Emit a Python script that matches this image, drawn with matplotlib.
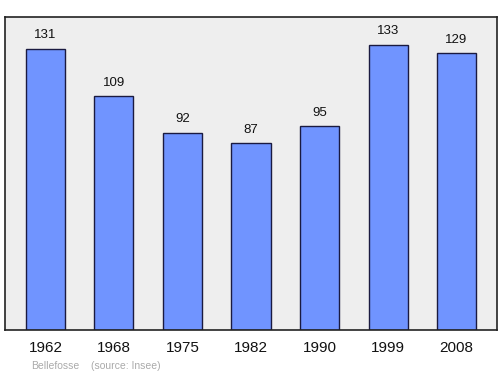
import matplotlib
matplotlib.use("Agg")
import matplotlib.pyplot as plt

plt.rcParams['font.family'] = ['Liberation Sans', 'DejaVu Sans']

years = ["1962", "1968", "1975", "1982", "1990", "1999", "2008"]
population = [131, 109, 92, 87, 95, 133, 129]

fig = plt.figure(figsize=(5, 3.74), dpi=100)
ax = fig.add_axes([0.01, 1 - 330/374, 0.984, (330 - 17)/374])
ax.set_facecolor("#eeeeee")
x = list(range(len(years)))
ax.bar(x, population, width=0.57, color="#7094ff", edgecolor="#1a1a40", linewidth=1.0, zorder=2)
for xi, v in zip(x, population):
    ax.text(xi, v + 3.6, str(v), ha="center", va="bottom", fontsize=9.5, color="#111111")
ax.set_xlim(-0.59, 6.59)
ax.set_ylim(0, 146)
ax.set_yticks([])
ax.set_xticks(x)
ax.set_xticklabels(years, fontsize=11, color="#111111")
ax.tick_params(axis="x", length=0, pad=8)
for s in ax.spines.values():
    s.set_color("#222222")
    s.set_linewidth(1.2)
fig.text(31/500, 1 - 369/374, "Bellefosse", fontsize=7.5, color="#aaaaaa", ha="left", va="baseline")
fig.text(91/500, 1 - 369/374, "(source: Insee)", fontsize=7.5, color="#aaaaaa", ha="left", va="baseline")
fig.savefig("out.png", dpi=100)
